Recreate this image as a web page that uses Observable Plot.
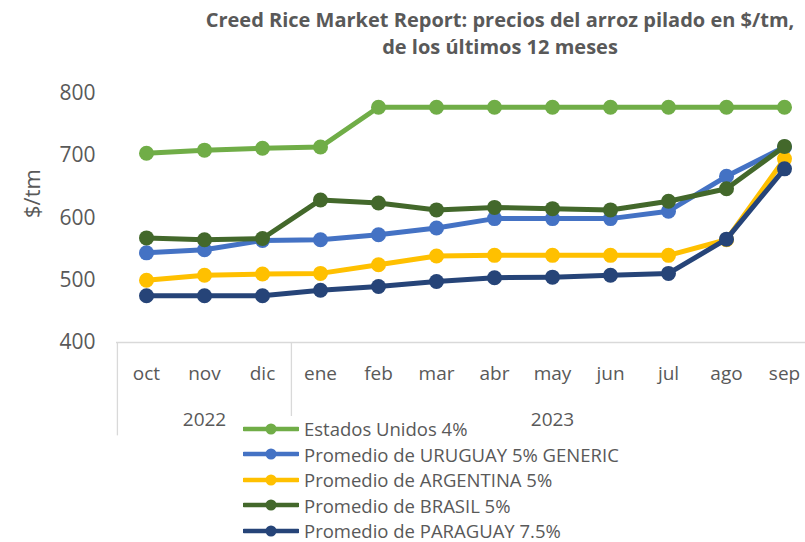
<!DOCTYPE html>
<html>
<head>
<meta charset="utf-8">
<script src="https://cdn.jsdelivr.net/npm/d3@7"></script>
<script src="https://cdn.jsdelivr.net/npm/@observablehq/plot@0.6"></script>
<style>
  html, body { margin: 0; padding: 0; background: #fff; }
  #wrap { position: relative; width: 805px; height: 542px; overflow: hidden; font-family: "Open Sans", sans-serif; color: #595959; }
  #title { position: absolute; left: 0; top: 6px; width: 805px; text-align: center; font-weight: bold; font-size: 20px; line-height: 27px; color: #595959; padding-left: 195px; box-sizing: border-box; white-space: nowrap; }
  #chart { position: absolute; left: 0; top: 70px; }
  #legend { position: absolute; left: 243px; top: 416px; }
  .row { display: flex; align-items: center; height: 25.5px; font-size: 18.5px; color: #595959; background: #fff; padding-right: 4px; width: max-content; }
  .row span { line-height: 21px; }
  .row svg { margin-right: 5px; }
</style>
</head>
<body>
<div id="wrap">
  <div id="title">Creed Rice Market Report: precios del arroz pilado en $/tm,<br>de los últimos 12 meses</div>
  <div id="chart"></div>
  <div id="legend"></div>
</div>
<script>
const months = ["oct","nov","dic","ene","feb","mar","abr","may","jun","jul","ago","sep"];
const years = [{month: "nov", label: "2022"}, {month: "may", label: "2023"}];
const yTicks = [400, 500, 600, 700, 800];

const seriesNames = ["Estados Unidos 4%", "Promedio de URUGUAY 5% GENERIC", "Promedio de ARGENTINA 5%", "Promedio de BRASIL 5%", "Promedio de PARAGUAY 7.5%"];
const seriesColors = ["#70AD47", "#4472C4", "#FFC000", "#43682B", "#264478"];

const estadosUnidos = [704, 709, 712, 714, 778, 778, 778, 778, 778, 778, 778, 778];
const uruguay      = [544, 549, 564, 565, 573, 584, 599, 599, 599, 611, 667, 714];
const argentina    = [500, 508, 510, 511, 525, 539, 540, 540, 540, 540, 565, 695];
const brasil       = [568, 565, 567, 629, 624, 613, 617, 615, 613, 627, 647, 715];
const paraguay     = [475, 475, 475, 484, 490, 498, 504, 505, 508, 511, 566, 679];

const seriesValues = [estadosUnidos, uruguay, argentina, brasil, paraguay];

const xRange = [116, 814];
const bw = (xRange[1] - xRange[0]) / months.length;

const seriesMarks = seriesValues.flatMap((vals, i) => {
  const data = months.map((m, j) => ({month: m, value: vals[j]}));
  return [
    Plot.line(data, {x: "month", y: "value", stroke: seriesColors[i], strokeWidth: 5, strokeLinejoin: "round"}),
    Plot.dot(data, {x: "month", y: "value", fill: seriesColors[i], r: 7.5, stroke: "none"})
  ];
});

const chart = Plot.plot({
  width: 805,
  height: 472,
  marginLeft: 116,
  marginRight: 0,
  marginTop: 23,
  marginBottom: 200,
  style: {color: "#595959", fontFamily: "'Open Sans', sans-serif", background: "transparent"},
  x: {type: "band", domain: months, range: xRange, padding: 0},
  y: {domain: [400, 800]},
  marks: [
    Plot.ruleY([400], {stroke: "#d9d9d9", strokeWidth: 1.3}),
    Plot.ruleX(["oct", "ene"], {x: d => d, y1: 400, y2: 250, dx: -bw / 2, stroke: "#d9d9d9", strokeWidth: 1.3}),
    Plot.axisY({ticks: yTicks, tickSize: 0, tickPadding: 21, fontSize: 21, label: null}),
    Plot.axisX({tickSize: 0, tickPadding: 24, fontSize: 19, label: null}),
    Plot.text(years, {x: "month", text: "label", frameAnchor: "bottom", dy: 83, fontSize: 19, fill: "#595959"}),
    Plot.text(["$/tm"], {frameAnchor: "left", dx: -84, rotate: -90, fontSize: 22, fill: "#595959"}),
    ...seriesMarks
  ]
});
document.getElementById("chart").appendChild(chart);

const legend = document.getElementById("legend");
seriesNames.forEach((name, i) => {
  const row = document.createElement("div");
  row.className = "row";
  row.innerHTML = `<svg width="56" height="14"><line x1="1" y1="7" x2="55" y2="7" stroke="${seriesColors[i]}" stroke-width="4.5" stroke-linecap="round"/><circle cx="28" cy="7" r="5.5" fill="${seriesColors[i]}"/></svg><span>${name}</span>`;
  legend.appendChild(row);
});
</script>
</body>
</html>
